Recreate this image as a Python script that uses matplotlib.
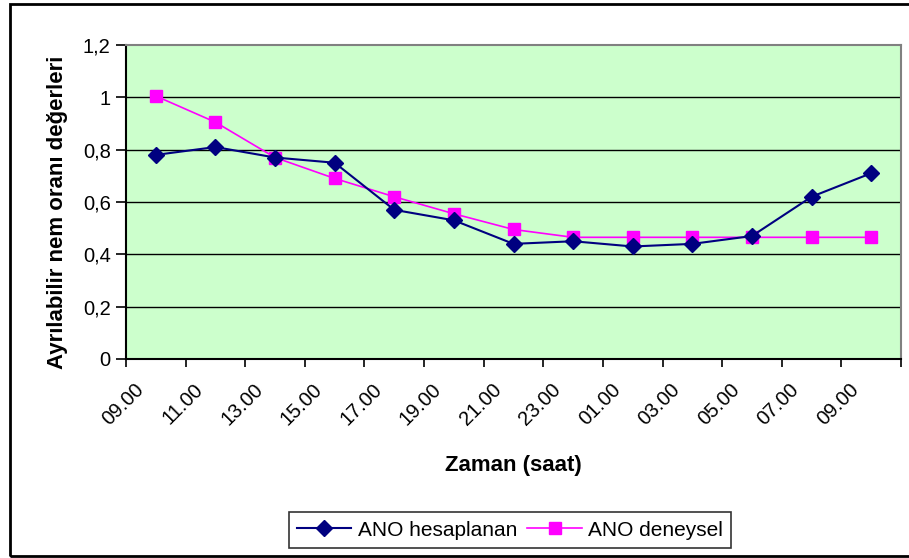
import matplotlib
matplotlib.use("Agg")
import matplotlib.pyplot as plt
from matplotlib.patches import Rectangle
from matplotlib.ticker import FixedLocator
from matplotlib.transforms import ScaledTranslation

categories = ["09.00", "11.00", "13.00", "15.00", "17.00", "19.00", "21.00",
              "23.00", "01.00", "03.00", "05.00", "07.00", "09.00"]
ano_hesaplanan = [0.78, 0.81, 0.77, 0.75, 0.57, 0.53, 0.44, 0.45, 0.43, 0.44, 0.47, 0.62, 0.71]
ano_deneysel = [1.005, 0.905, 0.77, 0.69, 0.62, 0.555, 0.495, 0.465, 0.465, 0.465, 0.465, 0.465, 0.465]
y_ticks = [0, 0.2, 0.4, 0.6, 0.8, 1.0, 1.2]
y_tick_labels = ["0", "0,2", "0,4", "0,6", "0,8", "1", "1,2"]

plt.rcParams['font.family'] = ['Liberation Sans', 'DejaVu Sans']

W, H = 909, 558
fig = plt.figure(figsize=(W / 100, H / 100), dpi=100)
ax = fig.add_axes([126 / W, (H - 359) / H, (901 - 126) / W, (359 - 45) / H])
ax.set_facecolor('#CCFFCC')

x = list(range(len(categories)))
ax.plot(x, ano_hesaplanan, color='#000080', lw=1.5, marker='D', ms=8,
        markerfacecolor='#000080', markeredgecolor='#000080', label='ANO hesaplanan', zorder=4)
ax.plot(x, ano_deneysel, color='#FF00FF', lw=1.2, marker='s', ms=8.5,
        markerfacecolor='#FF00FF', markeredgecolor='#FF00FF', label='ANO deneysel', zorder=3)

ax.set_xlim(-0.5, len(categories) - 0.5)
ax.set_ylim(0, 1.2)
ax.set_yticks(y_ticks)
ax.set_yticklabels(y_tick_labels, fontsize=14.5)
for yv in y_ticks[1:-1]:
    ax.axhline(yv, color='black', lw=1.0, zorder=1)

ax.set_xticks(x)
ax.set_xticklabels(categories, fontsize=14.5, rotation=45, ha='right', va='top',
                   rotation_mode='anchor')
ax.tick_params(axis='x', which='major', length=0, pad=15)
ax.xaxis.set_minor_locator(FixedLocator([i - 0.5 for i in range(len(categories) + 1)]))
ax.tick_params(axis='x', which='minor', length=6, width=1.2, direction='out', color='black')
ax.tick_params(axis='y', length=7, width=1.2, direction='out', pad=4)

shift = ScaledTranslation(-22 / 100, 0, fig.dpi_scale_trans)
for lab in ax.get_xticklabels():
    lab.set_transform(lab.get_transform() + shift)

for s in ['left', 'bottom']:
    ax.spines[s].set_color('black')
    ax.spines[s].set_linewidth(1.5)
for s in ['top', 'right']:
    ax.spines[s].set_color('#808080')
    ax.spines[s].set_linewidth(1.5)

ax.set_xlabel('Zaman (saat)', fontsize=16, fontweight='bold')
ax.xaxis.set_label_coords(0.5, (359 - 465) / 314)
ax.xaxis.label.set_va('center')
ax.set_ylabel('Ayrılabilir nem oranı değerleri', fontsize=16, fontweight='bold')
ax.yaxis.set_label_coords((57 - 126) / 775, (359 - 212) / 314)
ax.yaxis.label.set_va('center')

leg = fig.legend(loc='center', bbox_to_anchor=(510 / W, (H - 530) / H), ncol=2,
                 fontsize=15, frameon=True, fancybox=False, edgecolor='black',
                 handlelength=2.6, columnspacing=0.5, handletextpad=0.3, borderpad=0.4,
                 borderaxespad=0)
leg.get_frame().set_linewidth(1.2)

frame = Rectangle((10 / W, 2 / H), 1.2, (556 - 4) / H, transform=fig.transFigure,
                  fill=False, edgecolor='black', lw=2, clip_on=False)
fig.patches.append(frame)

fig.savefig('out.png', dpi=100)
